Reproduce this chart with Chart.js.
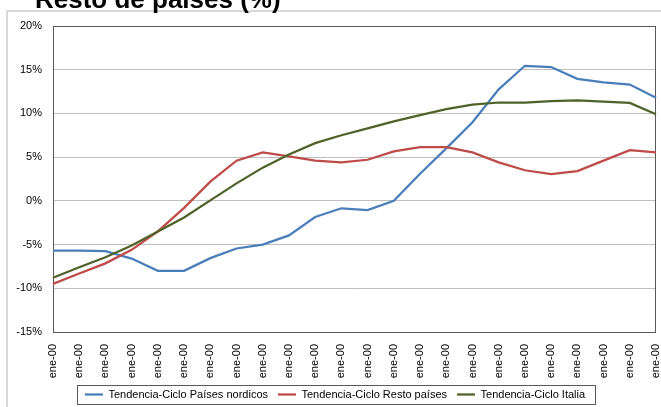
<!DOCTYPE html>
<html>
<head>
<meta charset="utf-8">
<script src="https://cdn.jsdelivr.net/npm/chart.js@4"></script>
<style>
  html, body { margin: 0; padding: 0; background: #fff; }
  #wrap { position: relative; width: 661px; height: 407px; }
</style>
</head>
<body>
<div id="wrap"><canvas id="myChart" width="661" height="407"></canvas></div>
<script>
// categories (every tick reads the same in the source)
const labels = [
  'ene-00', 'ene-00', 'ene-00', 'ene-00', 'ene-00', 'ene-00',
  'ene-00', 'ene-00', 'ene-00', 'ene-00', 'ene-00', 'ene-00',
  'ene-00', 'ene-00', 'ene-00', 'ene-00', 'ene-00', 'ene-00',
  'ene-00', 'ene-00', 'ene-00', 'ene-00', 'ene-00', 'ene-00'
];

// values in %
const nordicos = [-5.7, -5.7, -5.75, -6.6, -8.0, -8.0, -6.55, -5.45, -5.0, -3.95, -1.85, -0.85,
                  -1.05, 0.0, 3.1, 6.0, 9.0, 12.75, 15.45, 15.3, 13.95, 13.55, 13.3, 11.8];
const resto = [-9.5, -8.3, -7.15, -5.6, -3.5, -0.8, 2.2, 4.6, 5.55, 5.1, 4.6, 4.4,
               4.7, 5.65, 6.15, 6.15, 5.55, 4.4, 3.5, 3.05, 3.4, 4.6, 5.8, 5.55];
const italia = [-8.8, -7.6, -6.45, -5.1, -3.5, -1.9, 0.05, 2.0, 3.8, 5.3, 6.6, 7.5,
                8.3, 9.1, 9.8, 10.5, 11.0, 11.25, 11.25, 11.4, 11.5, 11.35, 11.2, 9.9];

const yTicks = [-15, -10, -5, 0, 5, 10, 15, 20];

const FONT = '"Liberation Sans", Arial, sans-serif';

const decor = {
  id: 'decor',
  afterUpdate(chart) {
    // nudge the legend a little to the right, as in the source
    const lg = chart.legend;
    lg.left += 7;
    lg.right += 7;
    (lg.legendHitBoxes || []).forEach(b => { b.left += 7; });
  },
  beforeDraw(chart) {
    const ctx = chart.ctx;
    ctx.save();
    // outer frame of the excel chart
    ctx.strokeStyle = '#d9d9d9';
    ctx.lineWidth = 2;
    ctx.strokeRect(7, 11, 680, 430);
    // title, partly cut at the top
    ctx.font = 'bold 26px ' + FONT;
    ctx.fillStyle = '#000';
    ctx.textBaseline = 'alphabetic';
    ctx.fillText('Resto de países (%)', 35, 8);
    ctx.restore();
  },
  beforeDatasetsDraw(chart) {
    const { ctx, chartArea: a } = chart;
    ctx.save();
    ctx.strokeStyle = '#595959';
    ctx.lineWidth = 1;
    ctx.strokeRect(Math.round(a.left) + 0.5, Math.round(a.top) + 0.5,
                   Math.round(a.right - a.left) - 1, Math.round(a.bottom - a.top));
    ctx.restore();
  },
  afterDraw(chart) {
    const { ctx, legend } = chart;
    const boxes = legend.legendHitBoxes;
    if (!boxes || !boxes.length) return;
    const first = boxes[0], last = boxes[boxes.length - 1];
    ctx.save();
    ctx.strokeStyle = '#595959';
    ctx.lineWidth = 1;
    const l = Math.round(first.left - 8) + 0.5;
    const r = Math.round(last.left + last.width + 10) + 0.5;
    const cy = first.top + first.height / 2;
    ctx.strokeRect(l, Math.round(cy - 10) + 0.5, r - l, 19);
    ctx.restore();
  }
};

new Chart(document.getElementById('myChart'), {
  type: 'line',
  data: {
    labels: labels,
    datasets: [
      { label: 'Tendencia-Ciclo Países nordicos', data: nordicos, borderColor: '#4a7ebb', backgroundColor: '#4a7ebb', borderWidth: 2.25, order: 3 },
      { label: 'Tendencia-Ciclo Resto países', data: resto, borderColor: '#be4b48', backgroundColor: '#be4b48', borderWidth: 2.25, order: 2 },
      { label: 'Tendencia-Ciclo Italia', data: italia, borderColor: '#4f6228', backgroundColor: '#4f6228', borderWidth: 2.25, order: 1 }
    ]
  },
  options: {
    responsive: false,
    animation: false,
    devicePixelRatio: 1,
    layout: { padding: { left: 0, top: 26, right: 5, bottom: -3 } },
    elements: {
      line: { tension: 0 },
      point: { radius: 0 }
    },
    scales: {
      x: {
        offset: false,
        grid: { display: false, drawTicks: true, tickLength: 12 },
        border: { display: false },
        ticks: {
          autoSkip: false, maxRotation: 90, minRotation: 90, padding: 0,
          color: '#000', font: { family: FONT, size: 11 }
        },
        afterFit(scale) {
          scale.height = 47;
          scale.paddingLeft = 0;
          scale.paddingRight = 0;
        }
      },
      y: {
        min: -15, max: 20,
        afterBuildTicks(scale) { scale.ticks = yTicks.map(v => ({ value: v })); },
        grid: { color: '#bfbfbf', drawTicks: false },
        border: { display: false },
        ticks: {
          padding: 11, color: '#000', font: { family: FONT, size: 11 },
          callback: v => v + '%'
        },
        afterFit(scale) { scale.width = 53; }
      }
    },
    plugins: {
      title: { display: false },
      tooltip: { enabled: false },
      legend: {
        position: 'bottom',
        labels: {
          usePointStyle: true, pointStyle: 'line', pointStyleWidth: 18,
          padding: 10, color: '#000', font: { family: FONT, size: 11 },
          sort: (a, b) => a.datasetIndex - b.datasetIndex
        }
      }
    }
  },
  plugins: [decor]
});
</script>
</body>
</html>
